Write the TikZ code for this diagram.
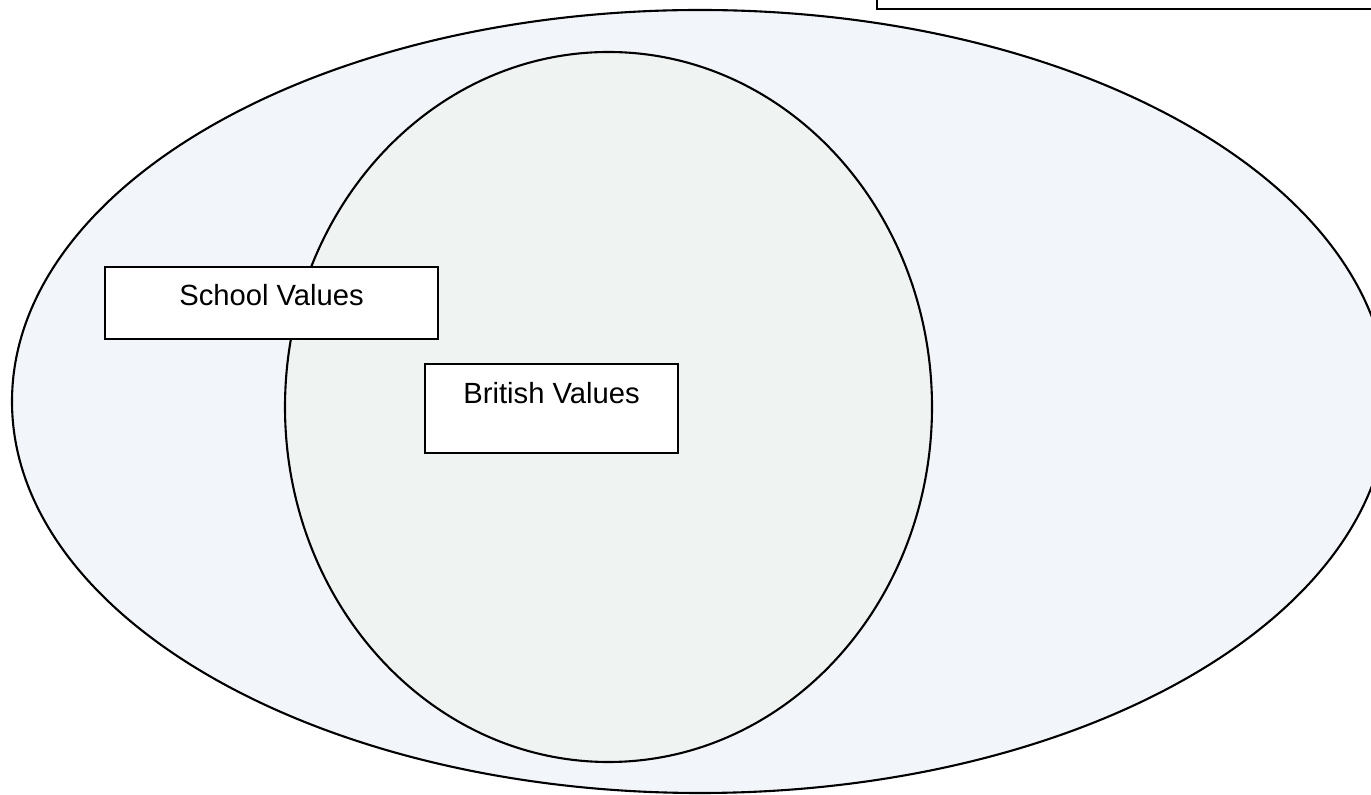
\documentclass[tikz,border=0pt]{standalone}
\usepackage{fontspec}
\setmainfont{Liberation Sans}
\definecolor{outerfill}{RGB}{242,245,250}
\definecolor{innerfill}{RGB}{239,243,241}
\begin{document}
\begin{tikzpicture}[x=0.5pt,y=-0.5pt,
  line width=1.05pt,
  valbox/.style={draw=black, fill=white, rectangle, inner sep=0pt, anchor=north west,
    font=\fontsize{14.6pt}{17pt}\selectfont}]
\useasboundingbox (0,0) rectangle (1371,795);
\clip (0,0) rectangle (1371,795);
% top-right box (cut off)
\draw[fill=white] (877,-30) rectangle (1400,9);
% outer ellipse
\draw[fill=outerfill] (700,401.5) ellipse [x radius=344pt, y radius=195.75pt];
% inner ellipse
\draw[fill=innerfill] (608.5,407) ellipse [x radius=161.75pt, y radius=177.5pt];
% boxes
\node[valbox, minimum width=166.5pt, text height=19pt, text depth=17pt] (school) at (104,266) {School Values};
\node[valbox, minimum width=126.5pt, text height=19.5pt, text depth=25pt] (british) at (424,363) {British Values};
\end{tikzpicture}
\end{document}
